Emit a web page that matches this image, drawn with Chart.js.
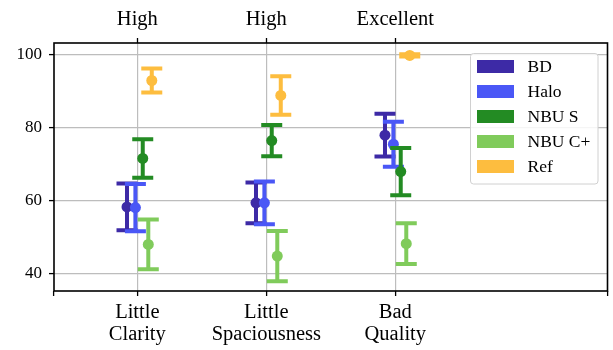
<!DOCTYPE html>
<html>
<head>
<meta charset="utf-8">
<script src="https://cdn.jsdelivr.net/npm/chart.js@4/dist/chart.umd.min.js"></script>
<style>
  html, body { margin: 0; padding: 0; background: #fff; }
  #wrap { width: 613px; height: 350px; }
</style>
</head>
<body>
<div id="wrap"><canvas id="c" width="613" height="350"></canvas></div>
<script>
// Categories (bottom axis) and their ratings (top axis)
const categories = [["Little", "Clarity"], ["Little", "Spaciousness"], ["Bad", "Quality"]];
const ratings = ["High", "High", "Excellent"];
const yTicks = [40, 60, 80, 100];

// Mean scores and error half-widths per method
const seriesNames = ["BD", "Halo", "NBU S", "NBU C+", "Ref"];
const bdMean = [58.2, 59.3, 77.9];
const bdErr = [6.4, 5.6, 5.9];
const haloMean = [58.0, 59.3, 75.4];
const haloErr = [6.5, 5.9, 6.2];
const nbuSMean = [71.5, 76.4, 67.9];
const nbuSErr = [5.3, 4.3, 6.5];
const nbuCMean = [47.9, 44.7, 48.1];
const nbuCErr = [6.8, 6.9, 5.6];
const refMean = [92.9, 88.8, 99.8];
const refErr = [3.3, 5.3, 0.3];

const means = [bdMean, haloMean, nbuSMean, nbuCMean, refMean];
const errs = [bdErr, haloErr, nbuSErr, nbuCErr, refErr];
const colors = ["#3d2aa6", "#4a57f6", "#238b23", "#80cb5b", "#fdbd3f"];
// horizontal dodge of each method around its category
const dodge = [-0.08, -0.015, 0.042, 0.085, 0.112];

const X_MIN = -0.646, X_MAX = 3.645;
const Y_MIN = 35.1, Y_MAX = 103.2;
const FONT = "'Liberation Serif', 'Times New Roman', serif";

const datasets = seriesNames.map((name, s) => ({
  type: "scatter",
  label: name,
  data: means[s].map((m, i) => ({ x: i + dodge[s], y: m })),
  errors: errs[s],
  backgroundColor: colors[s],
  pointBackgroundColor: colors[s],
  pointBorderWidth: 0,
  pointRadius: 5.5,
  pointHoverRadius: 5.5,
  showLine: false,
  order: seriesNames.length - s
}));

// vertical error bars with caps, drawn right before each dataset's markers
const errorBars = {
  id: "errorBars",
  beforeDatasetDraw(chart, args) {
    const ds = chart.data.datasets[args.index];
    const xs = chart.scales.x, ys = chart.scales.y;
    const ctx = chart.ctx;
    ctx.save();
    ctx.strokeStyle = ds.backgroundColor;
    ctx.lineWidth = 4;
    ctx.lineCap = "butt";
    ds.data.forEach((p, i) => {
      const e = ds.errors[i];
      const px = xs.getPixelForValue(p.x);
      const top = ys.getPixelForValue(p.y + e);
      const bot = ys.getPixelForValue(p.y - e);
      const half = 10.5;
      ctx.beginPath();
      ctx.moveTo(px, top); ctx.lineTo(px, bot);
      ctx.moveTo(px - half, top); ctx.lineTo(px + half, top);
      ctx.moveTo(px - half, bot); ctx.lineTo(px + half, bot);
      ctx.stroke();
    });
    ctx.restore();
  }
};

// black frame around the plotting area
const frame = {
  id: "frame",
  afterDatasetsDraw(chart) {
    const { ctx, chartArea: a } = chart;
    ctx.save();
    ctx.strokeStyle = "#000";
    ctx.lineWidth = 1.6;
    ctx.strokeRect(a.left, a.top, a.right - a.left, a.bottom - a.top);
    ctx.restore();
  }
};

// boxed legend in the upper right corner of the plot
const boxLegend = {
  id: "boxLegend",
  afterDraw(chart) {
    const { ctx, chartArea: a } = chart;
    const w = 127.5, h = 130.5;
    const x0 = a.right - 10 - w, y0 = a.top + 10;
    ctx.save();
    ctx.beginPath();
    ctx.roundRect(x0 + 0.5, y0 + 0.5, w, h, 3);
    ctx.fillStyle = "rgba(255,255,255,0.85)";
    ctx.fill();
    ctx.strokeStyle = "#d0d0d0";
    ctx.lineWidth = 1;
    ctx.stroke();
    ctx.font = "17.5px " + FONT;
    ctx.textBaseline = "middle";
    ctx.textAlign = "left";
    chart.data.datasets.forEach((ds, i) => {
      const cy = y0 + 13.5 + i * 25;
      ctx.fillStyle = ds.backgroundColor;
      ctx.fillRect(x0 + 7, cy - 6.5, 37, 13);
      ctx.fillStyle = "#000";
      ctx.fillText(ds.label, x0 + 57.5, cy + 1);
    });
    ctx.restore();
  }
};

new Chart(document.getElementById("c"), {
  data: { datasets },
  plugins: [errorBars, frame, boxLegend],
  options: {
    responsive: false,
    devicePixelRatio: 1,
    animation: false,
    layout: { padding: { left: 0, right: 0, top: 0, bottom: 0 } },
    plugins: { legend: { display: false }, tooltip: { enabled: false } },
    scales: {
      x: {
        type: "linear",
        position: "bottom",
        min: X_MIN,
        max: X_MAX,
        afterBuildTicks(scale) {
          scale.ticks = [X_MIN].concat(categories.map((c, i) => i), [X_MAX]).map(v => ({ value: v }));
        },
        afterFit(scale) { scale.height = 59; scale.paddingRight = 0; scale.paddingLeft = 0; },
        border: { display: false },
        grid: {
          color: ctx => (ctx.tick && Number.isInteger(ctx.tick.value)) ? "#bdbdbd" : "rgba(0,0,0,0)",
          lineWidth: 1.2,
          tickColor: "#000",
          tickLength: 5,
          tickWidth: 1.3
        },
        ticks: {
          autoSkip: false,
          maxRotation: 0,
          padding: 6,
          color: "#000",
          font: { family: FONT, size: 20.5, lineHeight: 1.05 },
          callback: v => Number.isInteger(v) && categories[v] ? categories[v] : ""
        }
      },
      x2: {
        type: "linear",
        position: "top",
        min: X_MIN,
        max: X_MAX,
        afterBuildTicks(scale) {
          scale.ticks = ratings.map((r, i) => ({ value: i }));
        },
        afterFit(scale) { scale.height = 43; scale.paddingRight = 0; scale.paddingLeft = 0; },
        border: { display: false },
        grid: {
          drawOnChartArea: false,
          color: "rgba(0,0,0,0)",
          tickColor: "#000",
          tickLength: 5,
          tickWidth: 1.3
        },
        ticks: {
          autoSkip: false,
          maxRotation: 0,
          padding: 7.5,
          color: "#000",
          font: { family: FONT, size: 20.5, lineHeight: 1.05 },
          callback: v => ratings[v] !== undefined ? ratings[v] : ""
        }
      },
      y: {
        type: "linear",
        position: "left",
        min: Y_MIN,
        max: Y_MAX,
        afterBuildTicks(scale) {
          scale.ticks = yTicks.map(v => ({ value: v }));
        },
        afterFit(scale) { scale.width = 54; },
        border: { display: false },
        grid: {
          color: "#bdbdbd",
          lineWidth: 1.2,
          tickColor: "#000",
          tickLength: 5,
          tickWidth: 1.3
        },
        ticks: {
          padding: 7,
          color: "#000",
          font: { family: FONT, size: 17 },
          callback: v => String(v)
        }
      }
    }
  }
});
</script>
</body>
</html>
